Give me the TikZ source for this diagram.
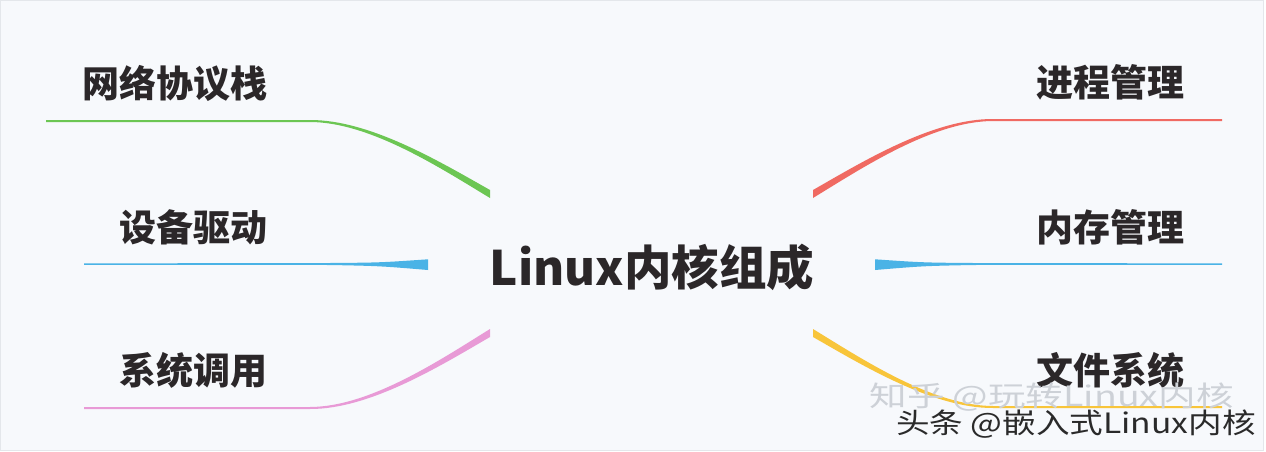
\documentclass[tikz,border=0pt]{standalone}
\usepackage{fontspec}
\newfontfamily\cjk{Noto Sans CJK SC}
\definecolor{bgc}{HTML}{F7F9FC}
\definecolor{framec}{HTML}{E4E7EB}
\definecolor{ink}{HTML}{2B2729}
\definecolor{greenc}{HTML}{6CC653}
\definecolor{bluec}{HTML}{4AB3E6}
\definecolor{pinkc}{HTML}{E89AD6}
\definecolor{redc}{HTML}{F06A62}
\definecolor{yellowc}{HTML}{F8C53A}
\definecolor{wmlight}{HTML}{CDD1D7}
\definecolor{wmdark}{HTML}{2A2A2A}
% curved tapered branch: colour, outer x, outer y, inner y
\newcommand\lbranch[4]{%
  \fill[#1] (#2,{#3-1}) -- (310,{#3-1})
    .. controls (370,{#3-1.2}) and (440,{#3+0.6*(#4-#3)-3}) .. (490,{#4-4})
    -- (490,{#4+4})
    .. controls (440,{#3+0.6*(#4-#3)+3}) and (370,{#3+1.2}) .. (310,{#3+1})
    -- (#2,{#3+1}) -- cycle;}
% straight tapered branch: colour, outer x
\newcommand\sbranch[2]{%
  \fill[#1] (#2,263.4) -- (330,263)
    .. controls (380,262.6) .. (428,259.3) -- (428,270)
    .. controls (380,266) .. (330,265) -- (#2,264.8) -- cycle;}
\begin{document}
\begin{tikzpicture}[x=1pt,y=-1pt,
  lbl/.style={font=\cjk\bfseries\fontsize{37}{44}\selectfont, text=ink, inner sep=0pt},
  hub/.style={font=\cjk\bfseries\fontsize{47.5}{56}\selectfont, text=ink, inner sep=0pt},
  wmone/.style={font=\cjk\fontsize{28}{33}\selectfont, text=wmlight, inner sep=0pt},
  wmtwo/.style={font=\cjk\fontsize{28}{33}\selectfont, text=wmdark, inner sep=0pt}]
\useasboundingbox (0,0) rectangle (1266,452);
\fill[white] (0,0) rectangle (1266,452);
\filldraw[fill=bgc, draw=framec, line width=1pt] (0,0.5) rectangle (1263,450);

% left branches
\lbranch{greenc}{46}{121}{194}
\sbranch{bluec}{84}
\lbranch{pinkc}{84}{408}{333}
% right branches (mirrored)
\begin{scope}[xshift=1303pt, xscale=-1]
  \lbranch{redc}{81}{120}{194}
  \sbranch{bluec}{81}
  \lbranch{yellowc}{81}{407}{333}
\end{scope}

\node[hub] (root) at (652,267.5) {Linux内核组成};
\node[lbl] (net)  at (175,83.5)    {网络协议栈};
\node[lbl] (dev)  at (193.5,227.5) {设备驱动};
\node[lbl] (sys)  at (193.5,370.5) {系统调用};
\node[lbl] (proc) at (1110,82.5)   {进程管理};
\node[lbl] (mem)  at (1110,227.5)  {内存管理};
\node[lbl] (fs)   at (1110,370.5)  {文件系统};

\node[wmone] (zhihu)   at (1051.5,397.5) {\scalebox{1.34}[1]{知乎 @玩转Linux内核}};
\node[wmtwo] (toutiao) at (1076,424.5)   {\scalebox{1.2}[1]{头条 @嵌入式Linux内核}};
\end{tikzpicture}
\end{document}
